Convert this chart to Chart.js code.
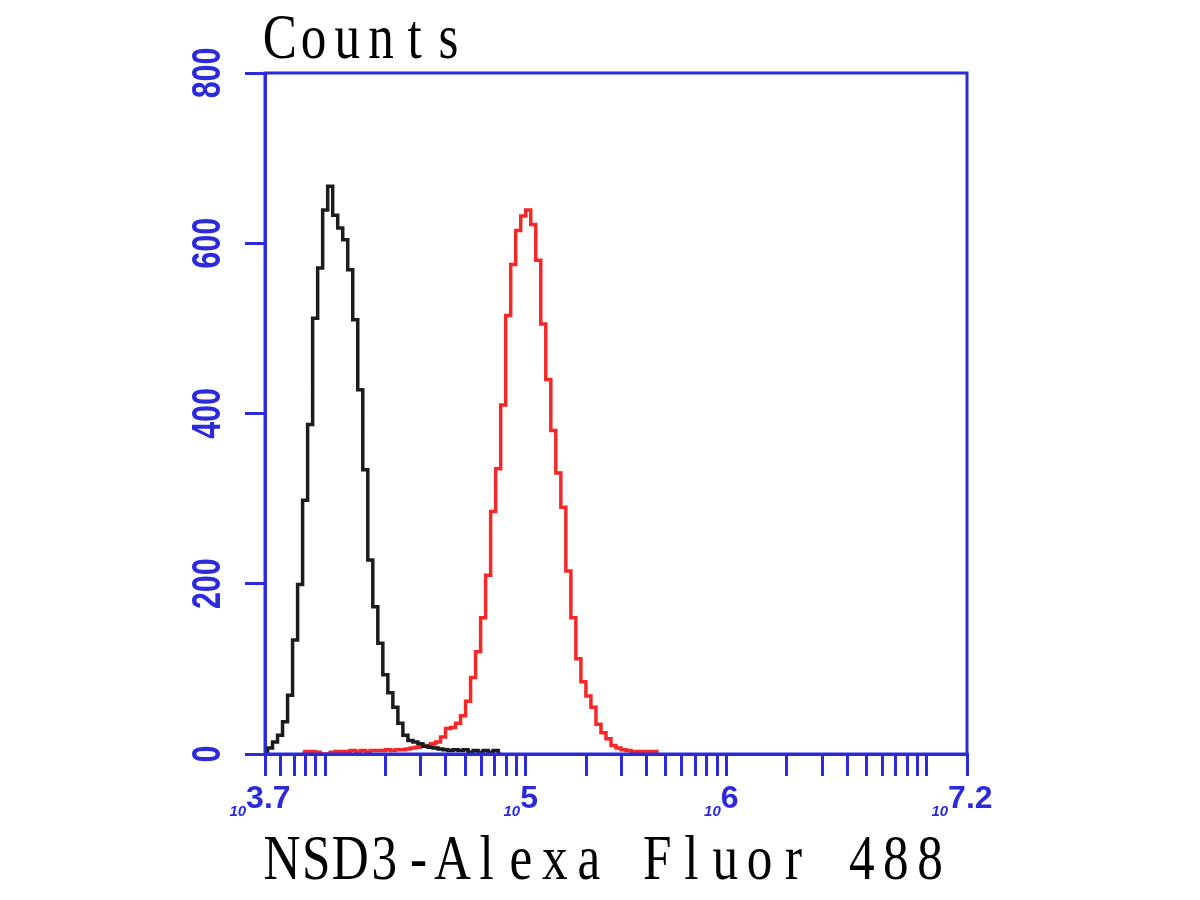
<!DOCTYPE html>
<html>
<head>
<meta charset="utf-8">
<script src="https://cdn.jsdelivr.net/npm/chart.js@4.4.0/dist/chart.umd.min.js"></script>
<style>
html, body { margin: 0; padding: 0; background: #fff; }
#wrap { width: 1200px; height: 900px; position: relative; }
</style>
</head>
<body>
<div id="wrap"><canvas id="flowChart"></canvas></div>
<script>
// histogram channels on a log10 axis
var binStart = 3.7;
var binWidth = 0.025;

// black = control, starts at first channel
var controlFirst = 0;
var controlCounts = [2, 7, 14, 22, 38, 69, 134, 199, 298, 387, 512, 571, 639, 667, 633, 618,
  604, 569, 510, 428, 334, 228, 173, 130, 93, 72, 55, 36, 22, 16, 14, 12, 9, 8, 7, 6, 5, 4,
  5, 4, 5, 2, 4, 2, 4, 2, 4, 1];

// red = NSD3 stained
var nsd3First = 7.5;
var nsd3Counts = [2, 3, 3, 2, 0, 0, 2, 3, 3, 3, 4, 3, 4, 3, 4, 4, 4, 5, 4, 5, 5, 6, 7, 8, 9,
  10, 12, 14, 20, 30, 31, 36, 45, 62, 90, 120, 160, 210, 285, 335, 410, 515, 575, 615, 632,
  639, 622, 580, 505, 440, 380, 330, 290, 215, 160, 112, 85, 68, 55, 35, 25, 18, 10, 7, 5,
  4, 3, 3, 3, 3, 3, 3];

// axis ticks
var xTickValues = [6000, 7000, 8000, 9000, 1e4, 2e4, 3e4, 4e4, 5e4, 6e4, 7e4, 8e4, 9e4, 1e5,
  2e5, 3e5, 4e5, 5e5, 6e5, 7e5, 8e5, 9e5, 1e6, 2e6, 3e6, 4e6, 5e6, 6e6, 7e6, 8e6, 9e6, 1e7];
var xLabelExps = [3.7, 5, 6, 7.2];
var xLabelTexts = ["3.7", "5", "6", "7.2"];
var yTicks = [0, 200, 400, 600, 800];

var yTitle = "Counts";
var xTitle = "NSD3-Alexa Fluor 488";

var BLUE = '#2b2bdb';

function toPoints(counts, first) {
  return counts.map(function(c, i) {
    return { x: binStart + (first + i) * binWidth, y: c };
  });
}

function drawMono(ctx, text, x, baseline, cell) {
  for (var i = 0; i < text.length; i++) {
    ctx.save();
    ctx.translate(x + cell * i + cell / 2, baseline);
    ctx.scale(0.8, 1);
    ctx.fillText(text[i], 0, 0);
    ctx.restore();
  }
}

var decorations = {
  id: 'decorations',
  afterDraw: function(chart) {
    var ctx = chart.ctx;
    var a = chart.chartArea;
    var xs = chart.scales.x;
    var ys = chart.scales.y;
    ctx.save();

    // box round the plot
    ctx.strokeStyle = BLUE;
    ctx.lineWidth = 3;
    ctx.strokeRect(a.left, a.top, a.right - a.left, a.bottom - a.top);

    // y labels, turned up
    ctx.fillStyle = BLUE;
    ctx.font = 'bold 32px "Liberation Sans"';
    ctx.textAlign = 'center';
    ctx.textBaseline = 'middle';
    yTicks.forEach(function(v) {
      var py = ys.getPixelForValue(v);
      ctx.save();
      ctx.translate(209, py);
      ctx.rotate(-Math.PI / 2);
      ctx.scale(0.95, 1.25);
      ctx.fillText(String(v), 0, 0);
      ctx.restore();
    });

    // x labels: small "10" + big exponent
    ctx.textAlign = 'left';
    ctx.textBaseline = 'alphabetic';
    xLabelExps.forEach(function(e, i) {
      var px = xs.getPixelForValue(e);
      ctx.font = 'bold italic 15px "Liberation Sans"';
      var w1 = ctx.measureText('10').width;
      ctx.font = 'bold 32px "Liberation Sans"';
      var w2 = ctx.measureText(xLabelTexts[i]).width;
      var start = px - 5 - (w1 + w2) / 2;
      ctx.font = 'bold italic 15px "Liberation Sans"';
      ctx.fillText('10', start, 816);
      ctx.font = 'bold 32px "Liberation Sans"';
      ctx.fillText(xLabelTexts[i], start + w1, 808);
    });

    // titles
    ctx.fillStyle = '#000';
    ctx.font = '64px "Liberation Serif"';
    ctx.textAlign = 'center';
    drawMono(ctx, yTitle, 263, 58, 33.7);
    drawMono(ctx, xTitle, 265, 879, 34.1);

    ctx.restore();
  }
};

var ctxFlow = document.getElementById('flowChart').getContext('2d');
var flowChart = new Chart(ctxFlow, {
  type: 'line',
  data: {
    datasets: [{
      label: 'Control',
      data: toPoints(controlCounts, controlFirst),
      borderColor: '#1c1c1c',
      borderWidth: 3.5,
      pointRadius: 0,
      stepped: 'middle',
      fill: false
    }, {
      label: 'NSD3',
      data: toPoints(nsd3Counts, nsd3First),
      borderColor: '#f42828',
      borderWidth: 3.5,
      pointRadius: 0,
      stepped: 'middle',
      fill: false
    }]
  },
  options: {
    responsive: true,
    maintainAspectRatio: false,
    animation: false,
    layout: { padding: { left: 0, top: 73, right: 233, bottom: 0 } },
    plugins: { legend: { display: false }, tooltip: { enabled: false } },
    scales: {
      x: {
        type: 'linear',
        min: 3.7,
        max: 7.2,
        afterBuildTicks: function(s) {
          var t = [{ value: 3.7 }];
          xTickValues.forEach(function(v) { t.push({ value: Math.log10(v) }); });
          t.push({ value: 7.2 });
          s.ticks = t;
        },
        afterFit: function(s) { s.height = 146; },
        grid: { drawOnChartArea: false, drawTicks: true, tickLength: 22, color: BLUE, lineWidth: 3 },
        border: { display: true, color: BLUE, width: 3 },
        ticks: { display: false }
      },
      y: {
        min: 0,
        max: 800,
        afterBuildTicks: function(s) {
          s.ticks = yTicks.map(function(v) { return { value: v }; });
        },
        afterFit: function(s) { s.width = 265; },
        grid: { drawOnChartArea: false, drawTicks: true, tickLength: 20, color: BLUE, lineWidth: 3 },
        border: { display: true, color: BLUE, width: 3 },
        ticks: { display: false }
      }
    }
  },
  plugins: [decorations]
});
</script>
</body>
</html>
